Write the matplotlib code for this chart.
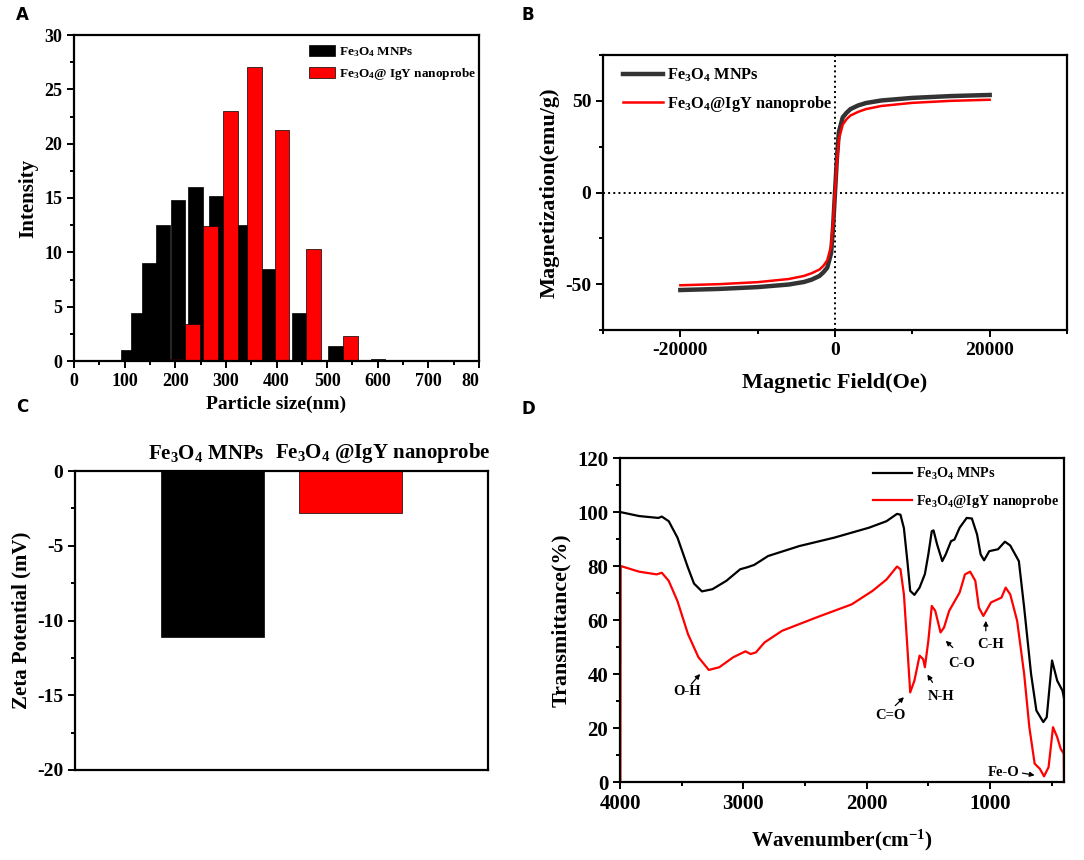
import matplotlib
matplotlib.use('Agg')
from matplotlib import pyplot as plt
from matplotlib.ticker import MultipleLocator
import numpy as np

plt.rcParams['font.family'] = ['Liberation Serif', 'DejaVu Serif']
plt.rcParams['font.weight'] = 'bold'
plt.rcParams['axes.labelweight'] = 'bold'
plt.rcParams['axes.unicode_minus'] = False
plt.rcParams['mathtext.fontset'] = 'custom'
plt.rcParams['mathtext.rm'] = 'Liberation Serif:bold'
plt.rcParams['mathtext.bf'] = 'Liberation Serif:bold'
plt.rcParams['mathtext.it'] = 'Liberation Serif:bold'
plt.rcParams['mathtext.default'] = 'bf'

FE = r'Fe$_3$O$_4$'

# ---- A: size distribution (DLS bins)
bins_mnp = [122.4, 141.8, 164.2, 190.1, 220.2, 255.0, 295.3, 342.0, 396.1, 458.7, 531.2, 615.1]
int_mnp = [1.0, 4.4, 9.0, 12.5, 14.8, 16.0, 15.2, 12.5, 8.5, 4.4, 1.4, 0.2]
bins_igy = [190.1, 220.2, 255.0, 295.3, 342.0, 396.1, 458.7, 531.2]
int_igy = [0.15, 3.4, 12.4, 23.0, 27.1, 21.3, 10.3, 2.3]
size_ticks = [0, 100, 200, 300, 400, 500, 600, 700, 800]
size_labels = ['0', '100', '200', '300', '400', '500', '600', '700', '80']

# ---- B: hysteresis loops
field = [-20000, -15000, -10000, -6000, -4000, -3000, -2000, -1500, -1000, -500, -250, 0,
         250, 500, 1000, 1500, 2000, 3000, 4000, 6000, 10000, 15000, 20000]
m_mnp = [-53.2, -52.6, -51.6, -50.2, -48.8, -47.5, -45.5, -43.5, -41.0, -33.0, -19.0, 0,
         19.0, 33.0, 41.0, 43.5, 45.5, 47.5, 48.8, 50.2, 51.6, 52.6, 53.2]
m_igy = [-50.6, -50.0, -48.9, -47.2, -45.5, -44.0, -42.0, -40.0, -37.0, -29.0, -16.0, 0,
         16.0, 29.0, 37.0, 40.0, 42.0, 44.0, 45.5, 47.2, 48.9, 50.0, 50.6]

# ---- C: zeta potential
samples = [FE + ' MNPs', FE + ' @IgY nanoprobe']
zeta = [-11.1, -2.8]

# ---- D: FTIR
wn_mnp = [4000, 3845, 3689, 3661, 3605, 3534, 3449, 3400, 3336, 3251, 3138, 3025,
          2970, 2912, 2799, 2545, 2263, 1980, 1839, 1754, 1726, 1698, 1670, 1647,
          1613, 1571, 1528, 1500, 1472, 1458, 1429, 1387, 1359, 1316, 1288, 1246,
          1189, 1147, 1105, 1076, 1048, 1006, 935, 879, 836, 766, 723, 667, 624,
          568, 540, 497, 455, 412, 400]
t_mnp = [100, 98.5, 97.8, 98.3, 96.6, 90.5, 79.4, 73.5, 70.6, 71.4, 74.5, 78.8,
         79.5, 80.4, 83.7, 87.4, 90.5, 94.2, 96.6, 99.3, 99.0, 94.0, 81.8, 70.8,
         69.3, 72.0, 77.0, 84.3, 92.9, 93.2, 88.0, 81.8, 84.3, 89.2, 89.8, 94.2,
         97.8, 97.6, 91.7, 84.3, 82.1, 85.5, 86.2, 89.0, 87.6, 81.8, 64.6, 40.0,
         26.5, 22.2, 24.0, 45.0, 37.5, 33.8, 31.0]
wn_igy = [3997, 3995, 3845, 3703, 3661, 3605, 3534, 3449, 3364, 3280, 3195, 3082,
          2983, 2941, 2898, 2828, 2686, 2404, 2121, 1952, 1839, 1754, 1726, 1698,
          1675, 1647, 1613, 1571, 1542, 1528, 1500, 1472, 1444, 1401, 1373, 1331,
          1246, 1203, 1161, 1119, 1090, 1054, 992, 907, 873, 836, 780, 723, 681,
          638, 596, 562, 525, 489, 455, 427, 402, 400]
t_igy = [0, 80, 77.9, 76.9, 77.5, 74.5, 67.0, 54.8, 46.2, 41.5, 42.5, 46.2,
         48.4, 47.4, 48.0, 51.7, 56.0, 61.0, 65.8, 70.8, 75.0, 79.8, 78.8, 69.5,
         53.5, 33.2, 37.5, 46.8, 45.5, 42.5, 52.3, 65.2, 63.4, 55.4, 57.2, 63.4,
         70.2, 76.9, 77.9, 74.5, 64.6, 61.5, 66.5, 68.3, 72.0, 69.5, 59.7, 40.0,
         20.3, 6.8, 4.9, 2.1, 5.5, 20.3, 16.6, 12.3, 10.5, 0]

# band labels: text, text position, arrow head, arrow tail
bands = ['O-H', 'C=O', 'N-H', 'C-O', 'C-H', 'Fe-O']
band_text = [(3455, 33.5), (1805, 24.5), (1401, 31.5), (1232, 44.0), (992, 51.0), (893, 3.7)]
band_tip = [(3350, 40.0), (1698, 31.4), (1508, 39.8), (1359, 52.3), (1034, 59.7), (638, 2.5)]
band_tail = [(3421, 36.3), (1768, 28.3), (1466, 36.9), (1302, 49.8), (1034, 56.0), (737, 3.3)]

W, H = 1084, 860
fig = plt.figure(figsize=(W / 100, H / 100), dpi=100)


def box(l, t, r, b):
    return [l / W, 1 - b / H, (r - l) / W, (b - t) / H]


def style(ax, size):
    for s in ax.spines.values():
        s.set_linewidth(1.6)
    ax.tick_params(which='both', direction='out', width=1.4, labelsize=size,
                   top=False, right=False)
    ax.tick_params(which='major', length=5)
    ax.tick_params(which='minor', length=3)


# A
axA = fig.add_axes(box(74, 35, 479, 361))
bw = 29
axA.bar(np.array(bins_mnp) - bw, int_mnp, width=bw, align='edge', color='black',
        edgecolor='black', linewidth=0.5, label=FE + ' MNPs')
axA.bar(bins_igy, int_igy, width=bw, align='edge', color='#ff0000', edgecolor='black',
        linewidth=0.5, label=FE + '@ IgY nanoprobe')
axA.set_xlim(0, 800)
axA.set_ylim(0, 30)
axA.set_xticks(size_ticks, size_labels)
axA.get_xticklabels()[-1].set_horizontalalignment('right')
axA.xaxis.set_minor_locator(MultipleLocator(50))
axA.yaxis.set_major_locator(MultipleLocator(5))
axA.yaxis.set_minor_locator(MultipleLocator(2.5))
style(axA, 13)
axA.set_xlabel('Particle size(nm)', fontsize=14)
axA.set_ylabel('Intensity', fontsize=15)
axA.legend(loc='upper left', bbox_to_anchor=(309 / W, 1 - 45 / H),
           bbox_transform=fig.transFigure, frameon=False, fontsize=9.5,
           handlelength=2.0, handleheight=0.9, handletextpad=0.3,
           borderaxespad=0, borderpad=0, labelspacing=0.55)

# B
axB = fig.add_axes(box(603, 55, 1067, 330))
axB.axhline(0, color='black', linestyle=':', linewidth=1.4)
axB.axvline(0, color='black', linestyle=':', linewidth=1.4)
axB.plot(field, m_mnp, color='#333333', linewidth=3.2, label=FE + ' MNPs')
axB.plot(field, m_igy, color='#ff0000', linewidth=1.8, label=FE + '@IgY nanoprobe')
axB.set_xlim(-30000, 30000)
axB.set_ylim(-75, 75)
axB.xaxis.set_major_locator(MultipleLocator(20000))
axB.xaxis.set_minor_locator(MultipleLocator(10000))
axB.yaxis.set_major_locator(MultipleLocator(50))
axB.yaxis.set_minor_locator(MultipleLocator(25))
style(axB, 14)
axB.set_xlabel('Magnetic Field(Oe)', fontsize=16, labelpad=10)
axB.set_ylabel('Magnetization(emu/g)', fontsize=16)
axB.legend(loc='upper left', bbox_to_anchor=(623 / W, 1 - 67 / H),
           bbox_transform=fig.transFigure, frameon=False, fontsize=11.8,
           handlelength=2.45, handletextpad=0.25, borderaxespad=0, borderpad=0,
           labelspacing=0.6)

# C
axC = fig.add_axes(box(75, 471, 488, 770))
axC.bar([1, 2], zeta, width=0.75, color=['black', '#ff0000'], edgecolor='black',
        linewidth=0.5)
axC.set_xlim(0, 3)
axC.set_ylim(-20, 0)
axC.set_xticks([])
axC.yaxis.set_major_locator(MultipleLocator(5))
axC.yaxis.set_minor_locator(MultipleLocator(2.5))
style(axC, 14)
for name, xc in zip(samples, [0.951, 2.237]):
    axC.text(xc, 1.06, name, fontsize=15, ha='center', va='center',
             transform=axC.get_xaxis_transform())
axC.set_ylabel('Zeta Potential (mV)', fontsize=15)

# D
axD = fig.add_axes(box(620, 458, 1064, 782))
axD.plot(wn_mnp, t_mnp, color='black', linewidth=1.6, label=FE + ' MNPs')
axD.plot(wn_igy, t_igy, color='#ff0000', linewidth=1.6, label=FE + '@IgY nanoprobe')
for name, tp, tip, tail in zip(bands, band_text, band_tip, band_tail):
    axD.annotate('', xy=tip, xytext=tail,
                 arrowprops=dict(arrowstyle='-|>', color='black', lw=0.9,
                                 mutation_scale=7, shrinkA=0, shrinkB=0))
    axD.text(tp[0], tp[1], name, fontsize=10.5, ha='center', va='center')
axD.set_xlim(4000, 400)
axD.set_ylim(0, 120)
axD.xaxis.set_major_locator(MultipleLocator(1000))
axD.xaxis.set_minor_locator(MultipleLocator(500))
axD.yaxis.set_major_locator(MultipleLocator(20))
axD.yaxis.set_minor_locator(MultipleLocator(10))
style(axD, 15)
axD.set_xlabel('Wavenumber(cm$^{-1}$)', fontsize=15.2, labelpad=10)
axD.set_ylabel('Transmittance(%)', fontsize=15.8)
axD.legend(loc='upper left', bbox_to_anchor=(873 / W, 1 - 466 / H),
           bbox_transform=fig.transFigure, frameon=False, fontsize=10.2,
           handlelength=2.75, handletextpad=0.3, borderaxespad=0, borderpad=0,
           labelspacing=0.8)

for lab, x, y in [('A', 22, 15), ('B', 528, 15), ('C', 22, 407), ('D', 528, 409)]:
    fig.text(x / W, 1 - y / H, lab, fontsize=12, fontweight='bold',
             family='DejaVu Sans', ha='center', va='center')

plt.savefig('out.png', dpi=100)
